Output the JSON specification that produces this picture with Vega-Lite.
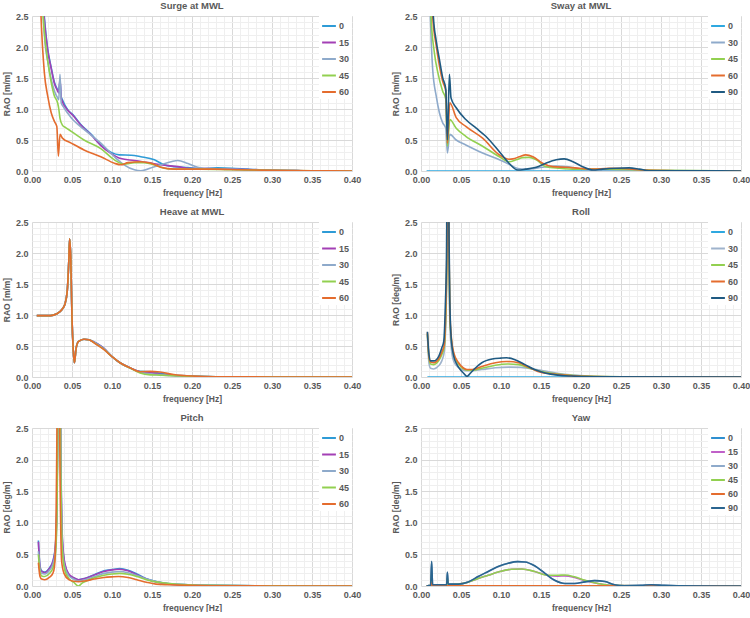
{
  "$schema": "https://vega.github.io/schema/vega-lite/v6.json",
  "background": "white",
  "padding": {"left": 2, "top": 0, "right": 4, "bottom": 0},
  "columns": 2,
  "spacing": {"row": 9, "column": 30},
  "datasets": {
    "surge": [
      {"h":"0","f":0.010,"r":4.0},{"h":"0","f":0.0125,"r":3.0},{"h":"0","f":0.015,"r":2.55},{"h":"0","f":0.0196,"r":1.97},{"h":"0","f":0.024,"r":1.67},{"h":"0","f":0.028,"r":1.43},{"h":"0","f":0.032,"r":1.31},{"h":"0","f":0.0335,"r":1.27},{"h":"0","f":0.035,"r":1.45},{"h":"0","f":0.0365,"r":1.2},{"h":"0","f":0.038,"r":1.15},{"h":"0","f":0.0446,"r":0.99},{"h":"0","f":0.051,"r":0.91},{"h":"0","f":0.061,"r":0.75},{"h":"0","f":0.074,"r":0.59},{"h":"0","f":0.086,"r":0.42},{"h":"0","f":0.099,"r":0.30},{"h":"0","f":0.109,"r":0.26},{"h":"0","f":0.124,"r":0.255},{"h":"0","f":0.136,"r":0.23},{"h":"0","f":0.153,"r":0.18},{"h":"0","f":0.165,"r":0.10},{"h":"0","f":0.178,"r":0.07},{"h":"0","f":0.195,"r":0.055},{"h":"0","f":0.211,"r":0.04},{"h":"0","f":0.232,"r":0.05},{"h":"0","f":0.249,"r":0.045},{"h":"0","f":0.27,"r":0.03},{"h":"0","f":0.295,"r":0.015},{"h":"0","f":0.336,"r":0.005},{"h":"0","f":0.4,"r":0},
      {"h":"15","f":0.010,"r":4.0},{"h":"15","f":0.0125,"r":3.0},{"h":"15","f":0.015,"r":2.5},{"h":"15","f":0.0196,"r":1.95},{"h":"15","f":0.024,"r":1.65},{"h":"15","f":0.028,"r":1.41},{"h":"15","f":0.032,"r":1.29},{"h":"15","f":0.0335,"r":1.26},{"h":"15","f":0.035,"r":1.49},{"h":"15","f":0.0365,"r":1.17},{"h":"15","f":0.0446,"r":0.98},{"h":"15","f":0.051,"r":0.9},{"h":"15","f":0.061,"r":0.74},{"h":"15","f":0.074,"r":0.58},{"h":"15","f":0.086,"r":0.41},{"h":"15","f":0.099,"r":0.28},{"h":"15","f":0.111,"r":0.2},{"h":"15","f":0.128,"r":0.17},{"h":"15","f":0.145,"r":0.135},{"h":"15","f":0.161,"r":0.10},{"h":"15","f":0.182,"r":0.07},{"h":"15","f":0.199,"r":0.04},{"h":"15","f":0.22,"r":0.04},{"h":"15","f":0.245,"r":0.03},{"h":"15","f":0.27,"r":0.025},{"h":"15","f":0.3,"r":0.01},{"h":"15","f":0.34,"r":0.005},{"h":"15","f":0.4,"r":0},
      {"h":"30","f":0.010,"r":4.0},{"h":"30","f":0.013,"r":2.8},{"h":"30","f":0.016,"r":2.1},{"h":"30","f":0.02,"r":1.75},{"h":"30","f":0.024,"r":1.48},{"h":"30","f":0.028,"r":1.29},{"h":"30","f":0.032,"r":1.18},{"h":"30","f":0.0335,"r":1.15},{"h":"30","f":0.035,"r":1.56},{"h":"30","f":0.0365,"r":1.1},{"h":"30","f":0.04,"r":1.02},{"h":"30","f":0.049,"r":0.86},{"h":"30","f":0.065,"r":0.67},{"h":"30","f":0.086,"r":0.45},{"h":"30","f":0.103,"r":0.23},{"h":"30","f":0.115,"r":0.10},{"h":"30","f":0.128,"r":0.02},{"h":"30","f":0.136,"r":0.005},{"h":"30","f":0.153,"r":0.07},{"h":"30","f":0.174,"r":0.15},{"h":"30","f":0.182,"r":0.17},{"h":"30","f":0.195,"r":0.12},{"h":"30","f":0.207,"r":0.06},{"h":"30","f":0.22,"r":0.03},{"h":"30","f":0.245,"r":0.03},{"h":"30","f":0.27,"r":0.02},{"h":"30","f":0.3,"r":0.01},{"h":"30","f":0.34,"r":0.005},{"h":"30","f":0.4,"r":0},
      {"h":"45","f":0.009,"r":4.0},{"h":"45","f":0.0125,"r":2.8},{"h":"45","f":0.015,"r":2.3},{"h":"45","f":0.0196,"r":1.78},{"h":"45","f":0.024,"r":1.43},{"h":"45","f":0.028,"r":1.21},{"h":"45","f":0.032,"r":1.10},{"h":"45","f":0.0335,"r":1.0},{"h":"45","f":0.035,"r":0.85},{"h":"45","f":0.038,"r":0.74},{"h":"45","f":0.042,"r":0.70},{"h":"45","f":0.049,"r":0.64},{"h":"45","f":0.065,"r":0.50},{"h":"45","f":0.086,"r":0.36},{"h":"45","f":0.103,"r":0.18},{"h":"45","f":0.115,"r":0.11},{"h":"45","f":0.128,"r":0.135},{"h":"45","f":0.14,"r":0.135},{"h":"45","f":0.153,"r":0.10},{"h":"45","f":0.165,"r":0.045},{"h":"45","f":0.178,"r":0.03},{"h":"45","f":0.195,"r":0.03},{"h":"45","f":0.211,"r":0.03},{"h":"45","f":0.25,"r":0.02},{"h":"45","f":0.3,"r":0.01},{"h":"45","f":0.35,"r":0.005},{"h":"45","f":0.4,"r":0},
      {"h":"60","f":0.008,"r":4.0},{"h":"60","f":0.011,"r":2.6},{"h":"60","f":0.0154,"r":1.59},{"h":"60","f":0.0196,"r":1.21},{"h":"60","f":0.024,"r":0.94},{"h":"60","f":0.028,"r":0.80},{"h":"60","f":0.031,"r":0.72},{"h":"60","f":0.033,"r":0.24},{"h":"60","f":0.035,"r":0.59},{"h":"60","f":0.038,"r":0.53},{"h":"60","f":0.049,"r":0.45},{"h":"60","f":0.065,"r":0.34},{"h":"60","f":0.086,"r":0.23},{"h":"60","f":0.103,"r":0.125},{"h":"60","f":0.111,"r":0.10},{"h":"60","f":0.12,"r":0.135},{"h":"60","f":0.136,"r":0.15},{"h":"60","f":0.149,"r":0.125},{"h":"60","f":0.161,"r":0.06},{"h":"60","f":0.178,"r":0.03},{"h":"60","f":0.203,"r":0.03},{"h":"60","f":0.228,"r":0.03},{"h":"60","f":0.26,"r":0.02},{"h":"60","f":0.3,"r":0.01},{"h":"60","f":0.35,"r":0.005},{"h":"60","f":0.4,"r":0}
    ],
    "sway": [
      {"h":"0","f":0.007,"r":0},{"h":"0","f":0.4,"r":0},
      {"h":"30","f":0.009,"r":4},{"h":"30","f":0.0117,"r":2.5},{"h":"30","f":0.0146,"r":1.64},{"h":"30","f":0.019,"r":1.21},{"h":"30","f":0.023,"r":0.94},{"h":"30","f":0.027,"r":0.78},{"h":"30","f":0.031,"r":0.69},{"h":"30","f":0.033,"r":0.29},{"h":"30","f":0.036,"r":0.59},{"h":"30","f":0.044,"r":0.50},{"h":"30","f":0.056,"r":0.42},{"h":"30","f":0.077,"r":0.29},{"h":"30","f":0.098,"r":0.18},{"h":"30","f":0.11,"r":0.11},{"h":"30","f":0.121,"r":0.04},{"h":"30","f":0.131,"r":0.03},{"h":"30","f":0.152,"r":0.06},{"h":"30","f":0.169,"r":0.08},{"h":"30","f":0.181,"r":0.07},{"h":"30","f":0.194,"r":0.045},{"h":"30","f":0.21,"r":0.015},{"h":"30","f":0.235,"r":0.02},{"h":"30","f":0.26,"r":0.015},{"h":"30","f":0.3,"r":0.008},{"h":"30","f":0.4,"r":0},
      {"h":"45","f":0.01,"r":4},{"h":"45","f":0.0125,"r":2.5},{"h":"45","f":0.0167,"r":1.91},{"h":"45","f":0.021,"r":1.59},{"h":"45","f":0.027,"r":1.29},{"h":"45","f":0.031,"r":1.16},{"h":"45","f":0.033,"r":0.40},{"h":"45","f":0.036,"r":0.83},{"h":"45","f":0.044,"r":0.69},{"h":"45","f":0.056,"r":0.56},{"h":"45","f":0.077,"r":0.40},{"h":"45","f":0.098,"r":0.23},{"h":"45","f":0.11,"r":0.15},{"h":"45","f":0.119,"r":0.18},{"h":"45","f":0.127,"r":0.215},{"h":"45","f":0.135,"r":0.22},{"h":"45","f":0.144,"r":0.18},{"h":"45","f":0.156,"r":0.07},{"h":"45","f":0.173,"r":0.045},{"h":"45","f":0.194,"r":0.03},{"h":"45","f":0.215,"r":0.03},{"h":"45","f":0.235,"r":0.03},{"h":"45","f":0.256,"r":0.025},{"h":"45","f":0.3,"r":0.01},{"h":"45","f":0.4,"r":0},
      {"h":"60","f":0.011,"r":4},{"h":"60","f":0.0146,"r":2.5},{"h":"60","f":0.019,"r":2.02},{"h":"60","f":0.023,"r":1.70},{"h":"60","f":0.027,"r":1.45},{"h":"60","f":0.031,"r":1.29},{"h":"60","f":0.033,"r":0.45},{"h":"60","f":0.036,"r":1.10},{"h":"60","f":0.044,"r":0.86},{"h":"60","f":0.056,"r":0.72},{"h":"60","f":0.077,"r":0.53},{"h":"60","f":0.098,"r":0.26},{"h":"60","f":0.11,"r":0.19},{"h":"60","f":0.115,"r":0.195},{"h":"60","f":0.123,"r":0.23},{"h":"60","f":0.131,"r":0.26},{"h":"60","f":0.14,"r":0.23},{"h":"60","f":0.152,"r":0.125},{"h":"60","f":0.165,"r":0.07},{"h":"60","f":0.181,"r":0.06},{"h":"60","f":0.198,"r":0.045},{"h":"60","f":0.215,"r":0.03},{"h":"60","f":0.235,"r":0.045},{"h":"60","f":0.252,"r":0.04},{"h":"60","f":0.277,"r":0.015},{"h":"60","f":0.32,"r":0.005},{"h":"60","f":0.4,"r":0},
      {"h":"90","f":0.012,"r":4},{"h":"90","f":0.0154,"r":2.5},{"h":"90","f":0.019,"r":2.1},{"h":"90","f":0.023,"r":1.8},{"h":"90","f":0.027,"r":1.51},{"h":"90","f":0.031,"r":1.32},{"h":"90","f":0.033,"r":0.5},{"h":"90","f":0.0355,"r":1.56},{"h":"90","f":0.0375,"r":1.18},{"h":"90","f":0.044,"r":1.02},{"h":"90","f":0.056,"r":0.83},{"h":"90","f":0.069,"r":0.69},{"h":"90","f":0.081,"r":0.56},{"h":"90","f":0.098,"r":0.31},{"h":"90","f":0.11,"r":0.125},{"h":"90","f":0.121,"r":0.015},{"h":"90","f":0.131,"r":0.03},{"h":"90","f":0.144,"r":0.06},{"h":"90","f":0.156,"r":0.125},{"h":"90","f":0.169,"r":0.18},{"h":"90","f":0.179,"r":0.195},{"h":"90","f":0.19,"r":0.15},{"h":"90","f":0.202,"r":0.07},{"h":"90","f":0.215,"r":0.015},{"h":"90","f":0.227,"r":0.03},{"h":"90","f":0.244,"r":0.045},{"h":"90","f":0.26,"r":0.05},{"h":"90","f":0.273,"r":0.03},{"h":"90","f":0.285,"r":0.005},{"h":"90","f":0.32,"r":0.005},{"h":"90","f":0.4,"r":0}
    ],
    "heave": [
      {"h":"0","f":0.006,"r":0.99},{"h":"0","f":0.015,"r":0.99},{"h":"0","f":0.023,"r":0.99},{"h":"0","f":0.031,"r":1.02},{"h":"0","f":0.0375,"r":1.09},{"h":"0","f":0.041,"r":1.17},{"h":"0","f":0.044,"r":1.38},{"h":"0","f":0.046,"r":1.87},{"h":"0","f":0.047,"r":2.23},{"h":"0","f":0.0485,"r":1.9},{"h":"0","f":0.05,"r":0.95},{"h":"0","f":0.0515,"r":0.45},{"h":"0","f":0.053,"r":0.23},{"h":"0","f":0.055,"r":0.45},{"h":"0","f":0.058,"r":0.57},{"h":"0","f":0.065,"r":0.61},{"h":"0","f":0.071,"r":0.6},{"h":"0","f":0.081,"r":0.54},{"h":"0","f":0.09,"r":0.46},{"h":"0","f":0.1,"r":0.33},{"h":"0","f":0.11,"r":0.23},{"h":"0","f":0.123,"r":0.145},{"h":"0","f":0.135,"r":0.09},{"h":"0","f":0.148,"r":0.085},{"h":"0","f":0.16,"r":0.06},{"h":"0","f":0.177,"r":0.03},{"h":"0","f":0.2,"r":0.015},{"h":"0","f":0.231,"r":0.005},{"h":"0","f":0.3,"r":0.001},{"h":"0","f":0.4,"r":0},
      {"h":"15","f":0.006,"r":0.99},{"h":"15","f":0.015,"r":0.99},{"h":"15","f":0.023,"r":0.99},{"h":"15","f":0.031,"r":1.02},{"h":"15","f":0.0375,"r":1.09},{"h":"15","f":0.041,"r":1.17},{"h":"15","f":0.044,"r":1.38},{"h":"15","f":0.046,"r":1.87},{"h":"15","f":0.047,"r":2.23},{"h":"15","f":0.0485,"r":1.9},{"h":"15","f":0.05,"r":0.95},{"h":"15","f":0.0515,"r":0.45},{"h":"15","f":0.053,"r":0.23},{"h":"15","f":0.055,"r":0.45},{"h":"15","f":0.058,"r":0.57},{"h":"15","f":0.065,"r":0.61},{"h":"15","f":0.071,"r":0.6},{"h":"15","f":0.081,"r":0.54},{"h":"15","f":0.09,"r":0.46},{"h":"15","f":0.1,"r":0.33},{"h":"15","f":0.11,"r":0.23},{"h":"15","f":0.123,"r":0.145},{"h":"15","f":0.135,"r":0.085},{"h":"15","f":0.148,"r":0.07},{"h":"15","f":0.16,"r":0.045},{"h":"15","f":0.177,"r":0.025},{"h":"15","f":0.2,"r":0.015},{"h":"15","f":0.231,"r":0.005},{"h":"15","f":0.3,"r":0.001},{"h":"15","f":0.4,"r":0},
      {"h":"30","f":0.006,"r":0.99},{"h":"30","f":0.015,"r":0.99},{"h":"30","f":0.023,"r":0.99},{"h":"30","f":0.031,"r":1.02},{"h":"30","f":0.0375,"r":1.09},{"h":"30","f":0.041,"r":1.17},{"h":"30","f":0.044,"r":1.38},{"h":"30","f":0.046,"r":1.87},{"h":"30","f":0.047,"r":2.23},{"h":"30","f":0.0485,"r":1.9},{"h":"30","f":0.05,"r":0.95},{"h":"30","f":0.0515,"r":0.45},{"h":"30","f":0.053,"r":0.23},{"h":"30","f":0.055,"r":0.45},{"h":"30","f":0.058,"r":0.57},{"h":"30","f":0.065,"r":0.61},{"h":"30","f":0.071,"r":0.6},{"h":"30","f":0.081,"r":0.535},{"h":"30","f":0.09,"r":0.455},{"h":"30","f":0.1,"r":0.33},{"h":"30","f":0.11,"r":0.23},{"h":"30","f":0.123,"r":0.145},{"h":"30","f":0.135,"r":0.075},{"h":"30","f":0.148,"r":0.05},{"h":"30","f":0.16,"r":0.035},{"h":"30","f":0.177,"r":0.02},{"h":"30","f":0.2,"r":0.012},{"h":"30","f":0.231,"r":0.005},{"h":"30","f":0.3,"r":0.001},{"h":"30","f":0.4,"r":0},
      {"h":"45","f":0.006,"r":0.99},{"h":"45","f":0.015,"r":0.99},{"h":"45","f":0.023,"r":0.99},{"h":"45","f":0.031,"r":1.02},{"h":"45","f":0.0375,"r":1.09},{"h":"45","f":0.041,"r":1.17},{"h":"45","f":0.044,"r":1.38},{"h":"45","f":0.046,"r":1.87},{"h":"45","f":0.047,"r":2.23},{"h":"45","f":0.0485,"r":1.9},{"h":"45","f":0.05,"r":0.95},{"h":"45","f":0.0515,"r":0.45},{"h":"45","f":0.053,"r":0.23},{"h":"45","f":0.055,"r":0.45},{"h":"45","f":0.058,"r":0.57},{"h":"45","f":0.065,"r":0.61},{"h":"45","f":0.071,"r":0.6},{"h":"45","f":0.081,"r":0.525},{"h":"45","f":0.09,"r":0.445},{"h":"45","f":0.1,"r":0.33},{"h":"45","f":0.11,"r":0.23},{"h":"45","f":0.123,"r":0.14},{"h":"45","f":0.135,"r":0.065},{"h":"45","f":0.148,"r":0.035},{"h":"45","f":0.16,"r":0.03},{"h":"45","f":0.177,"r":0.02},{"h":"45","f":0.2,"r":0.012},{"h":"45","f":0.231,"r":0.005},{"h":"45","f":0.3,"r":0.001},{"h":"45","f":0.4,"r":0},
      {"h":"60","f":0.006,"r":0.99},{"h":"60","f":0.015,"r":0.99},{"h":"60","f":0.023,"r":0.99},{"h":"60","f":0.031,"r":1.02},{"h":"60","f":0.0375,"r":1.09},{"h":"60","f":0.041,"r":1.17},{"h":"60","f":0.044,"r":1.38},{"h":"60","f":0.046,"r":1.87},{"h":"60","f":0.047,"r":2.23},{"h":"60","f":0.0485,"r":1.9},{"h":"60","f":0.05,"r":0.95},{"h":"60","f":0.0515,"r":0.45},{"h":"60","f":0.053,"r":0.23},{"h":"60","f":0.055,"r":0.45},{"h":"60","f":0.058,"r":0.57},{"h":"60","f":0.065,"r":0.61},{"h":"60","f":0.071,"r":0.6},{"h":"60","f":0.081,"r":0.52},{"h":"60","f":0.09,"r":0.44},{"h":"60","f":0.1,"r":0.33},{"h":"60","f":0.11,"r":0.23},{"h":"60","f":0.123,"r":0.145},{"h":"60","f":0.135,"r":0.085},{"h":"60","f":0.148,"r":0.09},{"h":"60","f":0.16,"r":0.08},{"h":"60","f":0.177,"r":0.04},{"h":"60","f":0.2,"r":0.015},{"h":"60","f":0.231,"r":0.005},{"h":"60","f":0.3,"r":0.001},{"h":"60","f":0.4,"r":0}
    ],
    "roll": [
      {"h":"0","f":0.008,"r":0},{"h":"0","f":0.4,"r":0},
      {"h":"30","f":0.008,"r":0.68},{"h":"30","f":0.010,"r":0.22},{"h":"30","f":0.012,"r":0.14},{"h":"30","f":0.016,"r":0.13},{"h":"30","f":0.022,"r":0.18},{"h":"30","f":0.026,"r":0.26},{"h":"30","f":0.029,"r":0.40},{"h":"30","f":0.031,"r":0.9},{"h":"30","f":0.0325,"r":2.0},{"h":"30","f":0.0335,"r":5},{"h":"30","f":0.035,"r":1.9},{"h":"30","f":0.036,"r":0.9},{"h":"30","f":0.038,"r":0.45},{"h":"30","f":0.041,"r":0.25},{"h":"30","f":0.047,"r":0.15},{"h":"30","f":0.053,"r":0.11},{"h":"30","f":0.0575,"r":0.10},{"h":"30","f":0.064,"r":0.10},{"h":"30","f":0.076,"r":0.12},{"h":"30","f":0.093,"r":0.15},{"h":"30","f":0.11,"r":0.16},{"h":"30","f":0.125,"r":0.155},{"h":"30","f":0.14,"r":0.13},{"h":"30","f":0.155,"r":0.095},{"h":"30","f":0.17,"r":0.06},{"h":"30","f":0.19,"r":0.03},{"h":"30","f":0.21,"r":0.015},{"h":"30","f":0.25,"r":0.005},{"h":"30","f":0.4,"r":0},
      {"h":"45","f":0.008,"r":0.70},{"h":"45","f":0.010,"r":0.30},{"h":"45","f":0.012,"r":0.21},{"h":"45","f":0.016,"r":0.20},{"h":"45","f":0.022,"r":0.26},{"h":"45","f":0.026,"r":0.36},{"h":"45","f":0.029,"r":0.48},{"h":"45","f":0.031,"r":1.0},{"h":"45","f":0.0325,"r":2.1},{"h":"45","f":0.0335,"r":5},{"h":"45","f":0.035,"r":2.0},{"h":"45","f":0.036,"r":1.0},{"h":"45","f":0.038,"r":0.6},{"h":"45","f":0.041,"r":0.36},{"h":"45","f":0.047,"r":0.21},{"h":"45","f":0.053,"r":0.13},{"h":"45","f":0.0575,"r":0.11},{"h":"45","f":0.064,"r":0.11},{"h":"45","f":0.076,"r":0.14},{"h":"45","f":0.093,"r":0.19},{"h":"45","f":0.108,"r":0.21},{"h":"45","f":0.122,"r":0.2},{"h":"45","f":0.134,"r":0.15},{"h":"45","f":0.146,"r":0.1},{"h":"45","f":0.163,"r":0.06},{"h":"45","f":0.18,"r":0.035},{"h":"45","f":0.204,"r":0.015},{"h":"45","f":0.25,"r":0.004},{"h":"45","f":0.4,"r":0},
      {"h":"60","f":0.008,"r":0.72},{"h":"60","f":0.010,"r":0.33},{"h":"60","f":0.012,"r":0.24},{"h":"60","f":0.016,"r":0.23},{"h":"60","f":0.022,"r":0.29},{"h":"60","f":0.026,"r":0.40},{"h":"60","f":0.029,"r":0.52},{"h":"60","f":0.031,"r":1.1},{"h":"60","f":0.0325,"r":2.2},{"h":"60","f":0.0335,"r":5},{"h":"60","f":0.035,"r":2.1},{"h":"60","f":0.036,"r":1.1},{"h":"60","f":0.038,"r":0.63},{"h":"60","f":0.041,"r":0.39},{"h":"60","f":0.047,"r":0.23},{"h":"60","f":0.053,"r":0.145},{"h":"60","f":0.0575,"r":0.12},{"h":"60","f":0.064,"r":0.12},{"h":"60","f":0.076,"r":0.17},{"h":"60","f":0.093,"r":0.23},{"h":"60","f":0.107,"r":0.25},{"h":"60","f":0.122,"r":0.23},{"h":"60","f":0.134,"r":0.16},{"h":"60","f":0.146,"r":0.09},{"h":"60","f":0.163,"r":0.05},{"h":"60","f":0.18,"r":0.03},{"h":"60","f":0.204,"r":0.01},{"h":"60","f":0.25,"r":0.003},{"h":"60","f":0.4,"r":0},
      {"h":"90","f":0.008,"r":0.73},{"h":"90","f":0.010,"r":0.36},{"h":"90","f":0.012,"r":0.26},{"h":"90","f":0.016,"r":0.26},{"h":"90","f":0.022,"r":0.33},{"h":"90","f":0.026,"r":0.47},{"h":"90","f":0.0285,"r":0.58},{"h":"90","f":0.0306,"r":1.22},{"h":"90","f":0.032,"r":2.03},{"h":"90","f":0.0335,"r":5},{"h":"90","f":0.035,"r":2.3},{"h":"90","f":0.036,"r":1.22},{"h":"90","f":0.038,"r":0.58},{"h":"90","f":0.041,"r":0.33},{"h":"90","f":0.045,"r":0.2},{"h":"90","f":0.049,"r":0.12},{"h":"90","f":0.053,"r":0.065},{"h":"90","f":0.0575,"r":0.01},{"h":"90","f":0.062,"r":0.065},{"h":"90","f":0.068,"r":0.145},{"h":"90","f":0.076,"r":0.23},{"h":"90","f":0.089,"r":0.29},{"h":"90","f":0.1,"r":0.305},{"h":"90","f":0.107,"r":0.31},{"h":"90","f":0.1175,"r":0.28},{"h":"90","f":0.13,"r":0.2},{"h":"90","f":0.142,"r":0.12},{"h":"90","f":0.155,"r":0.065},{"h":"90","f":0.171,"r":0.03},{"h":"90","f":0.188,"r":0.015},{"h":"90","f":0.217,"r":0.005},{"h":"90","f":0.4,"r":0}
    ],
    "pitch": [
      {"h":"0","f":0.008,"r":0.72},{"h":"0","f":0.010,"r":0.31},{"h":"0","f":0.012,"r":0.24},{"h":"0","f":0.016,"r":0.22},{"h":"0","f":0.022,"r":0.29},{"h":"0","f":0.026,"r":0.39},{"h":"0","f":0.029,"r":0.60},{"h":"0","f":0.031,"r":1.23},{"h":"0","f":0.032,"r":2.4},{"h":"0","f":0.034,"r":5},{"h":"0","f":0.036,"r":2.0},{"h":"0","f":0.038,"r":0.71},{"h":"0","f":0.041,"r":0.34},{"h":"0","f":0.046,"r":0.18},{"h":"0","f":0.052,"r":0.13},{"h":"0","f":0.058,"r":0.10},{"h":"0","f":0.066,"r":0.12},{"h":"0","f":0.078,"r":0.18},{"h":"0","f":0.09,"r":0.24},{"h":"0","f":0.1,"r":0.26},{"h":"0","f":0.11,"r":0.275},{"h":"0","f":0.12,"r":0.25},{"h":"0","f":0.131,"r":0.19},{"h":"0","f":0.143,"r":0.115},{"h":"0","f":0.155,"r":0.07},{"h":"0","f":0.171,"r":0.035},{"h":"0","f":0.195,"r":0.02},{"h":"0","f":0.223,"r":0.01},{"h":"0","f":0.3,"r":0.002},{"h":"0","f":0.4,"r":0},
      {"h":"15","f":0.008,"r":0.70},{"h":"15","f":0.010,"r":0.30},{"h":"15","f":0.012,"r":0.23},{"h":"15","f":0.016,"r":0.21},{"h":"15","f":0.022,"r":0.28},{"h":"15","f":0.026,"r":0.38},{"h":"15","f":0.029,"r":0.58},{"h":"15","f":0.031,"r":1.2},{"h":"15","f":0.032,"r":2.3},{"h":"15","f":0.034,"r":5},{"h":"15","f":0.036,"r":2.1},{"h":"15","f":0.038,"r":0.75},{"h":"15","f":0.041,"r":0.36},{"h":"15","f":0.046,"r":0.19},{"h":"15","f":0.052,"r":0.13},{"h":"15","f":0.058,"r":0.10},{"h":"15","f":0.066,"r":0.12},{"h":"15","f":0.078,"r":0.175},{"h":"15","f":0.09,"r":0.23},{"h":"15","f":0.1,"r":0.255},{"h":"15","f":0.11,"r":0.265},{"h":"15","f":0.12,"r":0.24},{"h":"15","f":0.131,"r":0.18},{"h":"15","f":0.143,"r":0.11},{"h":"15","f":0.155,"r":0.065},{"h":"15","f":0.171,"r":0.03},{"h":"15","f":0.195,"r":0.015},{"h":"15","f":0.223,"r":0.008},{"h":"15","f":0.3,"r":0.002},{"h":"15","f":0.4,"r":0},
      {"h":"30","f":0.008,"r":0.55},{"h":"30","f":0.010,"r":0.26},{"h":"30","f":0.012,"r":0.20},{"h":"30","f":0.016,"r":0.19},{"h":"30","f":0.022,"r":0.25},{"h":"30","f":0.026,"r":0.34},{"h":"30","f":0.029,"r":0.52},{"h":"30","f":0.031,"r":1.1},{"h":"30","f":0.032,"r":2.2},{"h":"30","f":0.034,"r":5},{"h":"30","f":0.036,"r":1.9},{"h":"30","f":0.038,"r":0.6},{"h":"30","f":0.041,"r":0.3},{"h":"30","f":0.046,"r":0.16},{"h":"30","f":0.052,"r":0.11},{"h":"30","f":0.058,"r":0.08},{"h":"30","f":0.066,"r":0.10},{"h":"30","f":0.078,"r":0.15},{"h":"30","f":0.09,"r":0.2},{"h":"30","f":0.1,"r":0.22},{"h":"30","f":0.11,"r":0.23},{"h":"30","f":0.12,"r":0.21},{"h":"30","f":0.131,"r":0.165},{"h":"30","f":0.143,"r":0.11},{"h":"30","f":0.155,"r":0.07},{"h":"30","f":0.171,"r":0.04},{"h":"30","f":0.195,"r":0.02},{"h":"30","f":0.223,"r":0.01},{"h":"30","f":0.3,"r":0.003},{"h":"30","f":0.4,"r":0},
      {"h":"45","f":0.008,"r":0.50},{"h":"45","f":0.010,"r":0.22},{"h":"45","f":0.012,"r":0.16},{"h":"45","f":0.016,"r":0.15},{"h":"45","f":0.022,"r":0.2},{"h":"45","f":0.026,"r":0.28},{"h":"45","f":0.029,"r":0.45},{"h":"45","f":0.031,"r":1.0},{"h":"45","f":0.032,"r":2.1},{"h":"45","f":0.034,"r":5},{"h":"45","f":0.036,"r":1.8},{"h":"45","f":0.038,"r":0.55},{"h":"45","f":0.041,"r":0.25},{"h":"45","f":0.046,"r":0.12},{"h":"45","f":0.052,"r":0.06},{"h":"45","f":0.058,"r":0.0},{"h":"45","f":0.063,"r":0.05},{"h":"45","f":0.07,"r":0.09},{"h":"45","f":0.078,"r":0.13},{"h":"45","f":0.09,"r":0.17},{"h":"45","f":0.1,"r":0.19},{"h":"45","f":0.11,"r":0.2},{"h":"45","f":0.12,"r":0.185},{"h":"45","f":0.131,"r":0.15},{"h":"45","f":0.143,"r":0.1},{"h":"45","f":0.155,"r":0.065},{"h":"45","f":0.171,"r":0.04},{"h":"45","f":0.195,"r":0.02},{"h":"45","f":0.223,"r":0.01},{"h":"45","f":0.3,"r":0.003},{"h":"45","f":0.4,"r":0},
      {"h":"60","f":0.008,"r":0.37},{"h":"60","f":0.010,"r":0.15},{"h":"60","f":0.012,"r":0.11},{"h":"60","f":0.016,"r":0.10},{"h":"60","f":0.022,"r":0.14},{"h":"60","f":0.026,"r":0.2},{"h":"60","f":0.028,"r":0.3},{"h":"60","f":0.030,"r":1.0},{"h":"60","f":0.031,"r":2.2},{"h":"60","f":0.033,"r":5},{"h":"60","f":0.035,"r":1.8},{"h":"60","f":0.037,"r":0.4},{"h":"60","f":0.040,"r":0.2},{"h":"60","f":0.046,"r":0.1},{"h":"60","f":0.052,"r":0.075},{"h":"60","f":0.058,"r":0.07},{"h":"60","f":0.066,"r":0.08},{"h":"60","f":0.078,"r":0.11},{"h":"60","f":0.09,"r":0.135},{"h":"60","f":0.1,"r":0.145},{"h":"60","f":0.108,"r":0.15},{"h":"60","f":0.12,"r":0.135},{"h":"60","f":0.131,"r":0.1},{"h":"60","f":0.143,"r":0.06},{"h":"60","f":0.155,"r":0.03},{"h":"60","f":0.171,"r":0.02},{"h":"60","f":0.195,"r":0.01},{"h":"60","f":0.223,"r":0.005},{"h":"60","f":0.3,"r":0.001},{"h":"60","f":0.4,"r":0}
    ],
    "yaw": [
      {"h":"0","f":0.007,"r":0},{"h":"0","f":0.4,"r":0},
      {"h":"15","f":0.007,"r":0},{"h":"15","f":0.0125,"r":0.01},{"h":"15","f":0.0133,"r":0.2},{"h":"15","f":0.014,"r":0.01},{"h":"15","f":0.032,"r":0.02},{"h":"15","f":0.033,"r":0.12},{"h":"15","f":0.034,"r":0.02},{"h":"15","f":0.0466,"r":0.03},{"h":"15","f":0.059,"r":0.06},{"h":"15","f":0.0715,"r":0.12},{"h":"15","f":0.084,"r":0.17},{"h":"15","f":0.0965,"r":0.22},{"h":"15","f":0.113,"r":0.265},{"h":"15","f":0.126,"r":0.27},{"h":"15","f":0.142,"r":0.23},{"h":"15","f":0.159,"r":0.165},{"h":"15","f":0.171,"r":0.155},{"h":"15","f":0.18,"r":0.16},{"h":"15","f":0.192,"r":0.135},{"h":"15","f":0.205,"r":0.085},{"h":"15","f":0.221,"r":0.04},{"h":"15","f":0.238,"r":0.01},{"h":"15","f":0.27,"r":0.005},{"h":"15","f":0.3,"r":0.005},{"h":"15","f":0.4,"r":0},
      {"h":"30","f":0.007,"r":0},{"h":"30","f":0.012,"r":0.01},{"h":"30","f":0.0133,"r":0.38},{"h":"30","f":0.0145,"r":0.02},{"h":"30","f":0.0216,"r":0.02},{"h":"30","f":0.032,"r":0.02},{"h":"30","f":0.033,"r":0.21},{"h":"30","f":0.034,"r":0.03},{"h":"30","f":0.0466,"r":0.03},{"h":"30","f":0.059,"r":0.065},{"h":"30","f":0.0715,"r":0.15},{"h":"30","f":0.084,"r":0.23},{"h":"30","f":0.0965,"r":0.31},{"h":"30","f":0.109,"r":0.36},{"h":"30","f":0.121,"r":0.385},{"h":"30","f":0.13,"r":0.38},{"h":"30","f":0.142,"r":0.32},{"h":"30","f":0.155,"r":0.2},{"h":"30","f":0.167,"r":0.09},{"h":"30","f":0.18,"r":0.04},{"h":"30","f":0.192,"r":0.04},{"h":"30","f":0.205,"r":0.065},{"h":"30","f":0.217,"r":0.085},{"h":"30","f":0.23,"r":0.07},{"h":"30","f":0.242,"r":0.02},{"h":"30","f":0.254,"r":0.005},{"h":"30","f":0.275,"r":0.01},{"h":"30","f":0.288,"r":0.02},{"h":"30","f":0.304,"r":0.01},{"h":"30","f":0.321,"r":0.005},{"h":"30","f":0.4,"r":0},
      {"h":"45","f":0.007,"r":0},{"h":"45","f":0.0125,"r":0.01},{"h":"45","f":0.0133,"r":0.2},{"h":"45","f":0.014,"r":0.01},{"h":"45","f":0.032,"r":0.02},{"h":"45","f":0.033,"r":0.12},{"h":"45","f":0.034,"r":0.02},{"h":"45","f":0.0466,"r":0.03},{"h":"45","f":0.059,"r":0.06},{"h":"45","f":0.0715,"r":0.12},{"h":"45","f":0.084,"r":0.17},{"h":"45","f":0.0965,"r":0.22},{"h":"45","f":0.113,"r":0.265},{"h":"45","f":0.126,"r":0.27},{"h":"45","f":0.142,"r":0.23},{"h":"45","f":0.159,"r":0.17},{"h":"45","f":0.171,"r":0.17},{"h":"45","f":0.18,"r":0.175},{"h":"45","f":0.192,"r":0.145},{"h":"45","f":0.205,"r":0.09},{"h":"45","f":0.221,"r":0.04},{"h":"45","f":0.238,"r":0.01},{"h":"45","f":0.27,"r":0.005},{"h":"45","f":0.3,"r":0.005},{"h":"45","f":0.4,"r":0},
      {"h":"60","f":0.007,"r":0},{"h":"60","f":0.0125,"r":0.005},{"h":"60","f":0.0133,"r":0.05},{"h":"60","f":0.015,"r":0.005},{"h":"60","f":0.05,"r":0.005},{"h":"60","f":0.3,"r":0.005},{"h":"60","f":0.4,"r":0},
      {"h":"90","f":0.007,"r":0},{"h":"90","f":0.012,"r":0.01},{"h":"90","f":0.0133,"r":0.39},{"h":"90","f":0.0145,"r":0.02},{"h":"90","f":0.0216,"r":0.02},{"h":"90","f":0.032,"r":0.02},{"h":"90","f":0.033,"r":0.22},{"h":"90","f":0.034,"r":0.03},{"h":"90","f":0.0466,"r":0.03},{"h":"90","f":0.059,"r":0.065},{"h":"90","f":0.0715,"r":0.15},{"h":"90","f":0.084,"r":0.23},{"h":"90","f":0.0965,"r":0.31},{"h":"90","f":0.109,"r":0.36},{"h":"90","f":0.121,"r":0.385},{"h":"90","f":0.13,"r":0.38},{"h":"90","f":0.142,"r":0.32},{"h":"90","f":0.155,"r":0.2},{"h":"90","f":0.167,"r":0.09},{"h":"90","f":0.18,"r":0.04},{"h":"90","f":0.192,"r":0.04},{"h":"90","f":0.205,"r":0.065},{"h":"90","f":0.217,"r":0.085},{"h":"90","f":0.23,"r":0.07},{"h":"90","f":0.242,"r":0.02},{"h":"90","f":0.254,"r":0.005},{"h":"90","f":0.275,"r":0.01},{"h":"90","f":0.288,"r":0.02},{"h":"90","f":0.304,"r":0.01},{"h":"90","f":0.321,"r":0.005},{"h":"90","f":0.4,"r":0}
    ]
  },
  "concat": [
    {
      "title": "Surge at MWL",
      "width": 320, "height": 155,
      "data": {"name": "surge"},
      "mark": {"type": "line", "clip": true, "strokeWidth": 1.6, "interpolate": "monotone"},
      "encoding": {
        "x": {"field": "f", "type": "quantitative", "scale": {"domain": [0, 0.4], "nice": false},
          "axis": {"title": "frequency [Hz]", "values": [0,0.01,0.02,0.03,0.04,0.05,0.06,0.07,0.08,0.09,0.1,0.11,0.12,0.13,0.14,0.15,0.16,0.17,0.18,0.19,0.2,0.21,0.22,0.23,0.24,0.25,0.26,0.27,0.28,0.29,0.3,0.31,0.32,0.33,0.34,0.35,0.36,0.37,0.38,0.39,0.4],
            "labelExpr": "round(datum.value*100) % 5 == 0 ? format(datum.value, '.2f') : ''",
            "gridColor": {"condition": {"test": "round(datum.value*100) % 5 == 0", "value": "#d9d9d9"}, "value": "#efefef"}}},
        "y": {"field": "r", "type": "quantitative", "scale": {"domain": [0, 2.5], "nice": false},
          "axis": {"title": "RAO [m/m]", "values": [0,0.1,0.2,0.3,0.4,0.5,0.6,0.7,0.8,0.9,1,1.1,1.2,1.3,1.4,1.5,1.6,1.7,1.8,1.9,2,2.1,2.2,2.3,2.4,2.5],
            "labelExpr": "round(datum.value*10) % 5 == 0 ? format(datum.value, '.1f') : ''",
            "gridColor": {"condition": {"test": "round(datum.value*10) % 5 == 0", "value": "#d9d9d9"}, "value": "#efefef"}}},
        "color": {"field": "h", "type": "nominal", "sort": null,
          "scale": {"domain": ["0","15","30","45","60"], "range": ["#2e9bd6","#a33fb5","#8eaacb","#92d050","#e46c2e"]},
          "legend": {"title": null}}
      }
    },
    {
      "title": "Sway at MWL",
      "width": 320, "height": 155,
      "data": {"name": "sway"},
      "mark": {"type": "line", "clip": true, "strokeWidth": 1.6, "interpolate": "monotone"},
      "encoding": {
        "x": {"field": "f", "type": "quantitative", "scale": {"domain": [0, 0.4], "nice": false},
          "axis": {"title": "frequency [Hz]", "values": [0,0.01,0.02,0.03,0.04,0.05,0.06,0.07,0.08,0.09,0.1,0.11,0.12,0.13,0.14,0.15,0.16,0.17,0.18,0.19,0.2,0.21,0.22,0.23,0.24,0.25,0.26,0.27,0.28,0.29,0.3,0.31,0.32,0.33,0.34,0.35,0.36,0.37,0.38,0.39,0.4],
            "labelExpr": "round(datum.value*100) % 5 == 0 ? format(datum.value, '.2f') : ''",
            "gridColor": {"condition": {"test": "round(datum.value*100) % 5 == 0", "value": "#d9d9d9"}, "value": "#efefef"}}},
        "y": {"field": "r", "type": "quantitative", "scale": {"domain": [0, 2.5], "nice": false},
          "axis": {"title": "RAO [m/m]", "values": [0,0.1,0.2,0.3,0.4,0.5,0.6,0.7,0.8,0.9,1,1.1,1.2,1.3,1.4,1.5,1.6,1.7,1.8,1.9,2,2.1,2.2,2.3,2.4,2.5],
            "labelExpr": "round(datum.value*10) % 5 == 0 ? format(datum.value, '.1f') : ''",
            "gridColor": {"condition": {"test": "round(datum.value*10) % 5 == 0", "value": "#d9d9d9"}, "value": "#efefef"}}},
        "color": {"field": "h", "type": "nominal", "sort": null,
          "scale": {"domain": ["0","30","45","60","90"], "range": ["#2ea8e0","#8eaacb","#92d050","#e46c2e","#1f5a82"]},
          "legend": {"title": null}}
      }
    },
    {
      "title": "Heave at MWL",
      "width": 320, "height": 155,
      "data": {"name": "heave"},
      "mark": {"type": "line", "clip": true, "strokeWidth": 1.6, "interpolate": "monotone"},
      "encoding": {
        "x": {"field": "f", "type": "quantitative", "scale": {"domain": [0, 0.4], "nice": false},
          "axis": {"title": "frequency [Hz]", "values": [0,0.01,0.02,0.03,0.04,0.05,0.06,0.07,0.08,0.09,0.1,0.11,0.12,0.13,0.14,0.15,0.16,0.17,0.18,0.19,0.2,0.21,0.22,0.23,0.24,0.25,0.26,0.27,0.28,0.29,0.3,0.31,0.32,0.33,0.34,0.35,0.36,0.37,0.38,0.39,0.4],
            "labelExpr": "round(datum.value*100) % 5 == 0 ? format(datum.value, '.2f') : ''",
            "gridColor": {"condition": {"test": "round(datum.value*100) % 5 == 0", "value": "#d9d9d9"}, "value": "#efefef"}}},
        "y": {"field": "r", "type": "quantitative", "scale": {"domain": [0, 2.5], "nice": false},
          "axis": {"title": "RAO [m/m]", "values": [0,0.1,0.2,0.3,0.4,0.5,0.6,0.7,0.8,0.9,1,1.1,1.2,1.3,1.4,1.5,1.6,1.7,1.8,1.9,2,2.1,2.2,2.3,2.4,2.5],
            "labelExpr": "round(datum.value*10) % 5 == 0 ? format(datum.value, '.1f') : ''",
            "gridColor": {"condition": {"test": "round(datum.value*10) % 5 == 0", "value": "#d9d9d9"}, "value": "#efefef"}}},
        "color": {"field": "h", "type": "nominal", "sort": null,
          "scale": {"domain": ["0","15","30","45","60"], "range": ["#2e9bd6","#a33fb5","#8eaacb","#92d050","#e46c2e"]},
          "legend": {"title": null}}
      }
    },
    {
      "title": "Roll",
      "width": 320, "height": 155,
      "data": {"name": "roll"},
      "mark": {"type": "line", "clip": true, "strokeWidth": 1.6, "interpolate": "monotone"},
      "encoding": {
        "x": {"field": "f", "type": "quantitative", "scale": {"domain": [0, 0.4], "nice": false},
          "axis": {"title": "frequency [Hz]", "values": [0,0.01,0.02,0.03,0.04,0.05,0.06,0.07,0.08,0.09,0.1,0.11,0.12,0.13,0.14,0.15,0.16,0.17,0.18,0.19,0.2,0.21,0.22,0.23,0.24,0.25,0.26,0.27,0.28,0.29,0.3,0.31,0.32,0.33,0.34,0.35,0.36,0.37,0.38,0.39,0.4],
            "labelExpr": "round(datum.value*100) % 5 == 0 ? format(datum.value, '.2f') : ''",
            "gridColor": {"condition": {"test": "round(datum.value*100) % 5 == 0", "value": "#d9d9d9"}, "value": "#efefef"}}},
        "y": {"field": "r", "type": "quantitative", "scale": {"domain": [0, 2.5], "nice": false},
          "axis": {"title": "RAO [deg/m]", "values": [0,0.1,0.2,0.3,0.4,0.5,0.6,0.7,0.8,0.9,1,1.1,1.2,1.3,1.4,1.5,1.6,1.7,1.8,1.9,2,2.1,2.2,2.3,2.4,2.5],
            "labelExpr": "round(datum.value*10) % 5 == 0 ? format(datum.value, '.1f') : ''",
            "gridColor": {"condition": {"test": "round(datum.value*10) % 5 == 0", "value": "#d9d9d9"}, "value": "#efefef"}}},
        "color": {"field": "h", "type": "nominal", "sort": null,
          "scale": {"domain": ["0","30","45","60","90"], "range": ["#2ea8e0","#9fb3cc","#92d050","#e46c2e","#1f5a82"]},
          "legend": {"title": null}}
      }
    },
    {
      "title": "Pitch",
      "width": 320, "height": 158,
      "data": {"name": "pitch"},
      "mark": {"type": "line", "clip": true, "strokeWidth": 1.6, "interpolate": "monotone"},
      "encoding": {
        "x": {"field": "f", "type": "quantitative", "scale": {"domain": [0, 0.4], "nice": false},
          "axis": {"title": "frequency [Hz]", "values": [0,0.01,0.02,0.03,0.04,0.05,0.06,0.07,0.08,0.09,0.1,0.11,0.12,0.13,0.14,0.15,0.16,0.17,0.18,0.19,0.2,0.21,0.22,0.23,0.24,0.25,0.26,0.27,0.28,0.29,0.3,0.31,0.32,0.33,0.34,0.35,0.36,0.37,0.38,0.39,0.4],
            "labelExpr": "round(datum.value*100) % 5 == 0 ? format(datum.value, '.2f') : ''",
            "gridColor": {"condition": {"test": "round(datum.value*100) % 5 == 0", "value": "#d9d9d9"}, "value": "#efefef"}}},
        "y": {"field": "r", "type": "quantitative", "scale": {"domain": [0, 2.5], "nice": false},
          "axis": {"title": "RAO [deg/m]", "values": [0,0.1,0.2,0.3,0.4,0.5,0.6,0.7,0.8,0.9,1,1.1,1.2,1.3,1.4,1.5,1.6,1.7,1.8,1.9,2,2.1,2.2,2.3,2.4,2.5],
            "labelExpr": "round(datum.value*10) % 5 == 0 ? format(datum.value, '.1f') : ''",
            "gridColor": {"condition": {"test": "round(datum.value*10) % 5 == 0", "value": "#d9d9d9"}, "value": "#efefef"}}},
        "color": {"field": "h", "type": "nominal", "sort": null,
          "scale": {"domain": ["0","15","30","45","60"], "range": ["#2e9bd6","#a33fb5","#8eaacb","#92d050","#e46c2e"]},
          "legend": {"title": null}}
      }
    },
    {
      "title": "Yaw",
      "width": 320, "height": 158,
      "data": {"name": "yaw"},
      "mark": {"type": "line", "clip": true, "strokeWidth": 1.6, "interpolate": "monotone"},
      "encoding": {
        "x": {"field": "f", "type": "quantitative", "scale": {"domain": [0, 0.4], "nice": false},
          "axis": {"title": "frequency [Hz]", "values": [0,0.01,0.02,0.03,0.04,0.05,0.06,0.07,0.08,0.09,0.1,0.11,0.12,0.13,0.14,0.15,0.16,0.17,0.18,0.19,0.2,0.21,0.22,0.23,0.24,0.25,0.26,0.27,0.28,0.29,0.3,0.31,0.32,0.33,0.34,0.35,0.36,0.37,0.38,0.39,0.4],
            "labelExpr": "round(datum.value*100) % 5 == 0 ? format(datum.value, '.2f') : ''",
            "gridColor": {"condition": {"test": "round(datum.value*100) % 5 == 0", "value": "#d9d9d9"}, "value": "#efefef"}}},
        "y": {"field": "r", "type": "quantitative", "scale": {"domain": [0, 2.5], "nice": false},
          "axis": {"title": "RAO [deg/m]", "values": [0,0.1,0.2,0.3,0.4,0.5,0.6,0.7,0.8,0.9,1,1.1,1.2,1.3,1.4,1.5,1.6,1.7,1.8,1.9,2,2.1,2.2,2.3,2.4,2.5],
            "labelExpr": "round(datum.value*10) % 5 == 0 ? format(datum.value, '.1f') : ''",
            "gridColor": {"condition": {"test": "round(datum.value*10) % 5 == 0", "value": "#d9d9d9"}, "value": "#efefef"}}},
        "color": {"field": "h", "type": "nominal", "sort": null,
          "scale": {"domain": ["0","15","30","45","60","90"], "range": ["#2e8fd0","#c060c8","#8eaacb","#92d050","#e46c2e","#2a6590"]},
          "legend": {"title": null, "rowPadding": 1}}
      }
    }
  ],
  "resolve": {"scale": {"color": "independent"}, "legend": {"color": "independent"}},
  "config": {
    "font": "Liberation Sans",
    "view": {"stroke": null},
    "title": {"fontSize": 9.5, "fontWeight": "bold", "color": "#595959", "offset": 2},
    "axis": {
      "labelFontSize": 9, "labelFontWeight": "bold", "labelColor": "#595959",
      "titleFontSize": 8.5, "titleFontWeight": "bold", "titleColor": "#595959",
      "ticks": false, "domain": false, "labelPadding": 4, "titlePadding": 4,
      "labelFlush": false, "labelOverlap": false, "gridWidth": 1
    },
    "legend": {
      "orient": "top-right", "offset": 0, "padding": 2, "fillColor": "white",
      "symbolType": "stroke", "symbolStrokeWidth": 2, "symbolSize": 190,
      "labelFontSize": 9, "labelFontWeight": "bold", "labelColor": "#595959",
      "labelOffset": 2, "rowPadding": 3.5
    }
  }
}
